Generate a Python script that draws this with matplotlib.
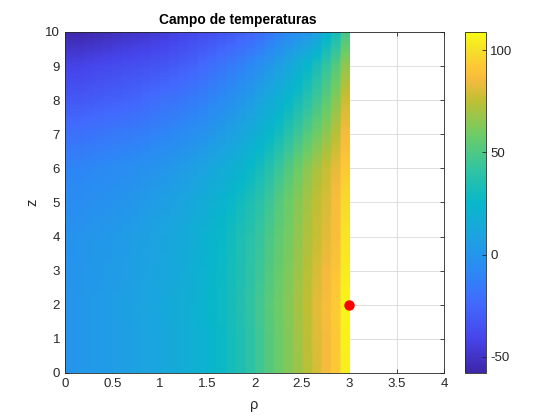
import numpy as np
import matplotlib
matplotlib.use('Agg')
import matplotlib.pyplot as plt
from matplotlib.colors import LinearSegmentedColormap

# rho cells are 0.1 wide from 0 to 3, rows were read at z = 0, 1, ..., 10
RHO_MAX = 3.0
Z_LEVELS = np.arange(0, 11)

# temperature, one row per z level, one value per rho cell
T_Z0 = [0, 1, 2, 3, 4, 5, 6, 8, 9, 11, 12, 14, 16, 19, 21, 24, 27, 31, 35, 40,
        46, 52, 58, 63, 68, 74, 80, 86, 93, 105]
T_Z1 = [0, 1, 2, 3, 4, 5, 6, 8, 9, 11, 12, 14, 16, 19, 21, 24, 27, 31, 35, 40,
        46, 52, 58, 63, 69, 75, 81, 86, 93, 106]
T_Z2 = [0, 1, 2, 3, 4, 5, 7, 8, 10, 11, 13, 15, 17, 19, 22, 25, 28, 32, 36, 41,
        47, 53, 59, 64, 70, 76, 82, 87, 94, 107]
T_Z3 = [-1, 0, 1, 2, 3, 4, 5, 7, 8, 10, 11, 13, 15, 18, 21, 24, 27, 31, 35, 40,
        45, 51, 57, 62, 68, 74, 80, 85, 91, 104]
T_Z4 = [-2, -1, 0, 1, 2, 3, 4, 6, 7, 9, 10, 12, 14, 17, 20, 23, 26, 30, 34, 38,
        43, 49, 55, 60, 66, 72, 77, 82, 88, 102]
T_Z5 = [-6, -5, -4, -3, -2, -1, 0, 1, 3, 5, 6, 8, 10, 13, 16, 19, 22, 26, 30, 34,
        39, 45, 52, 58, 64, 70, 76, 80, 87, 99]
T_Z6 = [-10, -10, -9, -8, -7, -6, -5, -4, -3, -1, 0, 2, 4, 6, 9, 12, 15, 18, 22, 26,
        31, 37, 44, 51, 58, 65, 71, 77, 83, 93]
T_Z7 = [-20, -20, -19, -18, -17, -16, -15, -14, -13, -11, -10, -8, -6, -4, -2, 1, 4, 7, 11, 15,
        20, 25, 31, 38, 45, 52, 59, 66, 74, 86]
T_Z8 = [-32, -32, -31, -30, -29, -28, -27, -26, -24, -22, -20, -19, -17, -15, -13, -10, -7, -4, 0, 4,
        9, 14, 19, 25, 31, 38, 46, 54, 64, 78]
T_Z9 = [-42, -42, -41, -40, -39, -38, -37, -36, -35, -34, -33, -31, -29, -27, -24, -21, -18, -15, -12, -8,
        -4, 1, 6, 12, 18, 25, 33, 42, 52, 66]
T_Z10 = [-57, -57, -56, -55, -54, -52, -51, -50, -49, -47, -46, -44, -42, -40, -38, -37, -34, -32, -29, -27,
         -23, -18, -13, -9, -5, -1, 6, 20, 30, 47]

T_MIN, T_MAX = -58, 109
SENSOR_RHO, SENSOR_Z = 3, 2

parula = LinearSegmentedColormap.from_list('parula', [
    (0.00, (0.2422, 0.1504, 0.6603)),
    (0.10, (0.2750, 0.2700, 0.9200)),
    (0.20, (0.2600, 0.4100, 0.9950)),
    (0.30, (0.1700, 0.5400, 0.9600)),
    (0.40, (0.1100, 0.6400, 0.8800)),
    (0.50, (0.0300, 0.7200, 0.7900)),
    (0.60, (0.2000, 0.7700, 0.6300)),
    (0.70, (0.4300, 0.8000, 0.4000)),
    (0.80, (0.7500, 0.7500, 0.2000)),
    (0.86, (0.9600, 0.7300, 0.2400)),
    (0.90, (0.9950, 0.7800, 0.2100)),
    (0.95, (0.9650, 0.8800, 0.1600)),
    (1.00, (0.9769, 0.9839, 0.0805)),
])

plt.rcParams['font.family'] = ['Liberation Sans', 'DejaVu Sans']
plt.rcParams['font.size'] = 9.5
plt.rcParams['axes.unicode_minus'] = False
dark = (0.15, 0.15, 0.15)

T = np.array([T_Z0, T_Z1, T_Z2, T_Z3, T_Z4, T_Z5, T_Z6, T_Z7, T_Z8, T_Z9, T_Z10], dtype=float)
# each rho cell stays one colour (repeat columns), rows blend smoothly in z
img = np.repeat(T, 4, axis=1)

fig = plt.figure(figsize=(5.6, 4.2), dpi=100)
ax = fig.add_axes([0.116, 0.112, 0.677, 0.812])
cax = fig.add_axes([0.830, 0.112, 0.037, 0.812])

im = ax.imshow(img, origin='lower', aspect='auto', cmap=parula, vmin=T_MIN, vmax=T_MAX,
               extent=[0, RHO_MAX, Z_LEVELS[0] - 0.5, Z_LEVELS[-1] + 0.5],
               interpolation='bilinear', interpolation_stage='data', zorder=2)
ax.plot(SENSOR_RHO, SENSOR_Z, 'o', color='red', markersize=6.5, zorder=3, clip_on=False)

ax.set_xlim(0, 4)
ax.set_ylim(0, 10)
ax.set_xticks(np.arange(0, 4.01, 0.5))
ax.set_xticklabels(['0', '0.5', '1', '1.5', '2', '2.5', '3', '3.5', '4'])
ax.set_yticks(np.arange(0, 11, 1))
ax.grid(True, color=(0.85, 0.85, 0.85), linewidth=0.6, zorder=0)
ax.set_axisbelow(True)
ax.tick_params(direction='in', top=True, right=True, length=3, width=0.6, colors=dark, labelcolor=dark)
for s in ax.spines.values():
    s.set_color(dark)
    s.set_linewidth(0.6)
ax.set_title('Campo de temperaturas', fontsize=9.9, fontweight='bold', color='black', pad=6, x=0.456)
ax.set_xlabel('ρ', fontsize=10.5, color=dark, labelpad=6)
ax.set_ylabel('z', fontsize=10.5, color=dark)

cb = fig.colorbar(im, cax=cax)
cb.set_ticks([-50, 0, 50, 100])
cb.ax.tick_params(direction='in', length=3, width=0.6, colors=dark, labelcolor=dark)
cb.outline.set_edgecolor(dark)
cb.outline.set_linewidth(0.6)

fig.savefig('out.png', dpi=100)
